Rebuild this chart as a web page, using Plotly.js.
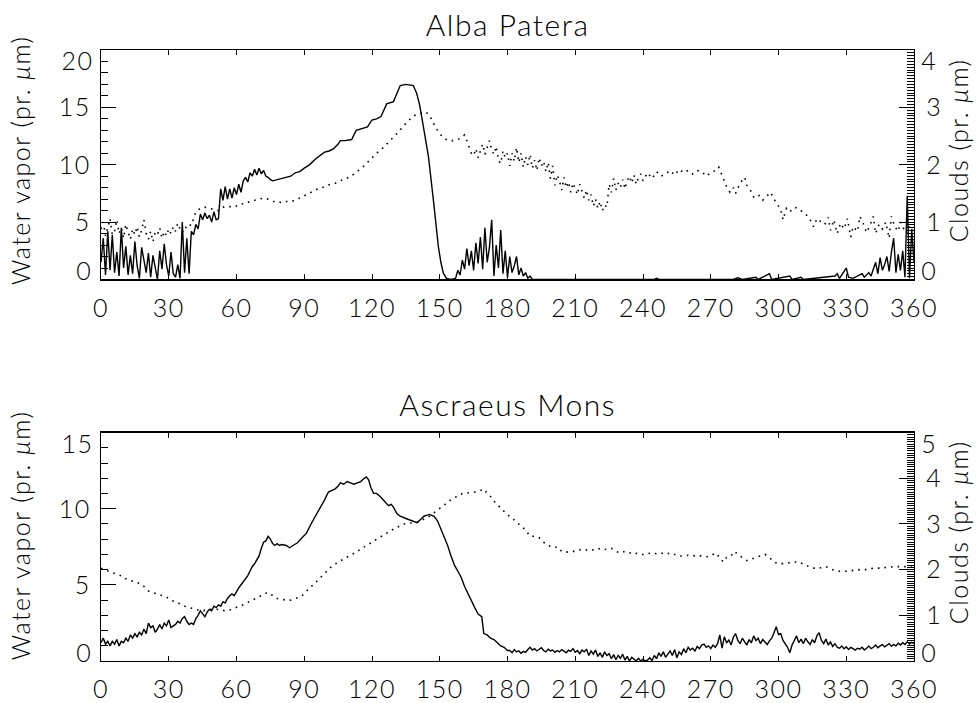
<!DOCTYPE html>
<html>
<head>
<meta charset="utf-8">
<script src="https://cdn.plot.ly/plotly-3.0.1.min.js"></script>
<style>
body{margin:0;background:#fff}
#chart svg text{letter-spacing:1.5px}
</style>
</head>
<body>
<div id="chart" style="width:976px;height:703px"></div>
<script>
// ---------- DATA ----------
var xTicks = [0,30,60,90,120,150,180,210,240,270,300,330,360];
var titles = ["Alba Patera", "Ascraeus Mons"];
var vapTitle = "Water vapor (pr. <i>μ</i>m)";
var cloudTitle = "Clouds (pr. <i>μ</i>m)";
var albaVapTicks = [0,5,10,15,20];
var albaCloudTicks = [0,1,2,3,4];
var ascVapTicks = [0,5,10,15];
var ascCloudTicks = [0,1,2,3,4,5];

// Alba Patera: clouds (solid, right axis, pr. um)
var albaCloudLs = [0,1,2,3,4,5,6,7,8,9,10,11,12,13,14,15,16,17,18,19,20,21,22,23,24,25,26,27,28,29,30,31,32,33,34,35,36,37,38,39,40,
41,42,43,44,45,46,47,48,49,50,51,52,53,54,55,56,57,58,59,60,61,62,63,64,65,66,67,68,69,70,71,72,73,74,75,76,
78,80,82,84,86,88,90,92,95,97,99,101,103,105,106,108,111,113,115,118,120,122,124,126.5,129.5,131,132.5,135,138.3,139.8,141,142,143.5,145,147.2,149.4,150.5,151.6,153,155,157,
158,159,160,161,162,163,164,165,166,167,168,169,170,171,172,173,174,175,176,177,178,179,180,181,182,183,184,185,186,187,188,189,190,191,
220,222,224,245,246,247,280,282,284,290,291,296,297,305,306,310,311,325,326,327,330,331,333,335,337,338,340,341,
343,344,345,346,347,348,349,350,351,352,353,354,355,356,357,358,359,360];
var albaCloud = [0.30,0.72,0.08,0.84,0.16,0.78,0.12,0.48,0.06,0.90,0.20,0.58,0.08,0.42,0.10,0.66,0.24,0.02,0.56,0.32,0.12,0.46,0.04,0.42,0.20,0.00,0.50,0.18,0.62,0.26,0.06,0.48,0.10,0.04,0.26,0.02,1.00,0.12,0.72,0.10,0.84,
0.78,0.96,0.88,1.14,1.04,1.16,1.06,1.12,1.00,1.18,1.04,1.06,1.58,1.38,1.62,1.40,1.58,1.42,1.60,1.48,1.66,1.52,1.72,1.78,1.70,1.86,1.80,1.92,1.82,1.94,1.84,1.90,1.80,1.78,1.74,1.72,
1.74,1.76,1.78,1.80,1.86,1.88,1.94,1.99,2.10,2.16,2.22,2.24,2.28,2.36,2.42,2.42,2.44,2.60,2.62,2.66,2.78,2.80,2.84,3.06,3.10,3.24,3.38,3.40,3.38,3.24,3.06,2.84,2.50,2.14,1.38,0.57,0.30,0.11,0.02,0,0.02,
0.16,0.08,0.34,0.18,0.54,0.24,0.50,0.16,0.64,0.28,0.74,0.18,0.90,0.30,0.56,1.04,0.06,0.60,0.20,0.86,0.10,0.50,0.04,0.40,0.12,0.24,0.40,0.08,0.20,0.06,0.12,0.02,0.06,0,
0,0.01,0,0,0.02,0,0,0.03,0,0.04,0,0.10,0,0.06,0,0.04,0,0.06,0.10,0.02,0.20,0.04,0.02,0.06,0.10,0.04,0.12,0.06,
0.30,0.10,0.38,0.16,0.26,0.40,0.14,0.48,0.72,0.12,0.44,0.16,0.50,0.04,1.46,0.02,0.88,0.30];

// Alba Patera: water vapor (dotted, left axis, pr. um)
var albaVapLs = [0,1,2,3,4,5,6,7,8,9,10,11,12,13,14,15,16,17,18,19,20,21,22,23,24,25,26,27,28,29,30,31,32,33,34,35,36,37,38,39,40,
42,44,46,48,50,52,54,56,58,60,62,64,66,68,70,72,74,76,78,80,82,84,86,88,90,92,94,96,98,100,102,104,106,108,110,112,114,116,118,120,122,124,126,128,130,132,134,136,138,140,142,144,146,148,150,152,154,156,158,160,
161,162,163,164,165,166,167,168,169,170,171,172,173,174,175,176,177,178,179,180,181,182,183,184,185,186,187,188,189,190,191,192,193,194,195,196,197,198,199,200,
201,202,203,204,205,206,207,208,209,210,211,212,213,214,215,216,217,218,219,220,221,222,223,224,225,226,227,228,229,230,231,232,233,234,235,236,237,238,239,240,
242,244,246,248,250,252,254,256,258,260,262,264,266,268,270,272,
273.5,275,277,278.5,280,281,283,285,286,287.5,289,291,293,295,296.5,298,299.5,301,302,303.5,305,307,309.5,311,312.5,314,315.5,317,319,320.5,322,323,324.5,326,327.5,329,330.5,332,333,335,336,337.5,339,340.5,342,343,344.5,346,347.5,349,350,351.5,353,354,355.5,357,358,359,360];
var albaVap = [4.4,5.0,3.8,4.6,5.3,3.9,4.2,5.2,4.0,4.5,3.6,4.8,4.1,3.5,4.4,3.9,4.6,3.7,4.3,5.2,4.0,3.5,4.2,3.3,4.1,3.9,4.5,3.6,4.2,3.8,4.4,4.0,4.6,4.2,4.9,4.4,4.1,4.6,4.5,4.8,4.7,
5.9,6.2,6.3,6.2,6.1,6.0,6.3,6.4,6.3,6.4,6.6,6.6,6.8,6.9,7.0,7.1,7.0,6.8,6.8,6.7,6.8,6.8,6.9,7.1,7.3,7.5,7.7,7.9,8.0,8.2,8.3,8.4,8.6,8.8,8.9,9.2,9.5,9.8,10.2,10.6,11.0,11.3,11.7,12.1,12.5,12.9,13.4,13.8,14.2,14.4,14.5,14.6,14.1,13.3,12.7,12.3,12.1,12.1,12.2,12.4,
12.6,12.1,11.5,11.0,10.8,11.4,10.6,11.2,11.8,10.9,11.5,12.1,11.3,10.9,11.6,10.4,10.1,11.2,10.6,11.0,9.9,11.0,10.3,11.5,10.2,11.0,9.8,10.7,10.0,10.9,9.7,10.4,9.5,10.6,9.9,10.3,9.4,10.2,8.8,9.9,
8.2,9.1,8.6,7.8,8.9,8.0,8.5,7.6,8.4,7.9,7.4,8.3,7.6,7.1,7.8,6.9,7.4,6.4,7.0,6.2,6.8,6.0,6.5,6.3,8.3,7.6,8.8,7.8,8.4,8.0,8.7,7.9,8.6,9.0,8.4,9.1,8.3,8.9,9.2,8.6,
9.3,8.8,9.4,9.0,9.2,9.5,9.1,9.6,9.3,9.5,9.2,9.5,9.4,9.0,9.3,9.5,
9.8,9.0,8.1,7.6,8.0,7.5,8.4,8.9,8.2,7.8,7.2,7.4,6.9,7.3,7.6,7.0,6.6,6.1,5.2,6.2,5.9,6.3,6.1,5.8,5.6,5.2,4.6,5.3,5.0,4.8,5.4,4.3,5.2,4.0,4.9,4.4,5.3,3.7,4.6,4.2,5.5,4.9,4.1,4.7,5.5,4.0,4.8,4.4,5.0,3.6,5.5,4.6,4.2,5.0,4.4,4.0,4.7,4.3,4.5];

// Ascraeus Mons: clouds (solid, right axis, pr. um)
var ascCloudLs = [0,1,2,3,4,5,6,7,8,9,10,11,12,13,14,15,16,17,18,19,20,21,22,23,24,25,26,27,28,29,30,31,32,33,34,35,36,37,38,39,40,
41,42,43,44,45,46,47,48,49,50,51,52,53,54,55,56,57,58,59,60,61,62,63,64,65,66,67,68,69,70,71,72,73,74,75,76,77,78,79,80,
82,83.5,85,87,89,91,93,95,97,99,100.7,102,103.7,105,106,107.5,109,110.5,112,113.5,115,116.5,117.5,118.5,119.5,120.7,122,123.6,125,127.3,128.5,129.5,131,132.5,135,137.5,140,141.5,143,145.5,147.5,149,150.5,152,153.5,155,156.5,158,159.5,161,162.5,164,165.5,167,168.6,169.5,171,172.5,174,175.5,177,178.5,180,
181,182,183,184,185,186,187,188,189,190,191,192,193,194,195,196,197,198,199,200,201,202,203,204,205,206,207,208,209,210,
211,212,213,214,215,216,217,218,219,220,221,222,223,224,225,226,227,228,229,230,231,232,233,234,235,236,237,238,239,240,
241,242,243,244,245,246,247,248,249,250,251,252,253,254,255,256,257,258,259,260,261,262,263,264,265,266,267,268,269,270,
271,272,273,274,275,276,277,278,279,280,281,282,283,284,285,286,287,288,289,290,291,292,293,294,295,296,297,298,299,300,
301,302,303,304,305,306,307,308,309,310,311,312,313,314,315,316,317,318,319,320,321,322,323,324,325,326,327,328,329,330,
331,332,333,334,335,336,337,338,339,340,341,342,343,344,345,346,347,348,349,350,351,352,353,354,355,356,357,358,359,360];
var ascCloud = [0.40,0.50,0.37,0.43,0.33,0.43,0.37,0.47,0.33,0.43,0.40,0.50,0.43,0.57,0.50,0.60,0.53,0.63,0.57,0.70,0.60,0.83,0.73,0.77,0.63,0.70,0.80,0.70,0.83,0.77,0.90,0.73,0.77,0.80,0.87,0.83,0.93,0.97,0.87,0.80,0.83,
0.80,0.93,1.00,1.10,1.03,0.97,1.07,1.13,1.10,1.20,1.17,1.23,1.20,1.30,1.27,1.37,1.43,1.47,1.43,1.53,1.60,1.67,1.73,1.80,1.87,1.97,2.07,2.13,2.23,2.30,2.47,2.60,2.63,2.73,2.67,2.57,2.53,2.57,2.53,2.55,
2.53,2.48,2.53,2.59,2.70,2.80,3.00,3.17,3.37,3.53,3.70,3.73,3.77,3.83,3.90,3.87,3.93,3.90,3.87,3.90,3.93,4.00,4.03,3.97,3.80,3.67,3.67,3.60,3.53,3.40,3.43,3.37,3.23,3.17,3.12,3.08,3.03,3.10,3.17,3.21,3.17,3.07,2.90,2.73,2.53,2.30,2.10,1.97,1.83,1.63,1.47,1.30,1.17,1.03,0.97,0.60,0.57,0.50,0.47,0.40,0.33,0.30,0.23,
0.23,0.18,0.25,0.20,0.22,0.17,0.21,0.19,0.25,0.30,0.24,0.27,0.22,0.26,0.29,0.23,0.20,0.26,0.22,0.24,0.19,0.23,0.20,0.25,0.22,0.18,0.24,0.21,0.27,0.19,
0.23,0.16,0.24,0.20,0.26,0.12,0.22,0.15,0.24,0.10,0.18,0.08,0.20,0.12,0.16,0.05,0.14,0.03,0.12,0.06,0.15,0.02,0.10,0.00,0.08,0.03,0.00,0.06,0.00,0.04,
0.00,0.02,0.07,0.01,0.12,0.05,0.18,0.10,0.20,0.08,0.15,0.22,0.12,0.25,0.07,0.20,0.14,0.27,0.18,0.30,0.24,0.28,0.22,0.32,0.27,0.35,0.37,0.30,0.33,0.27,
0.35,0.30,0.38,0.57,0.28,0.53,0.40,0.46,0.35,0.52,0.60,0.45,0.38,0.50,0.42,0.35,0.47,0.40,0.55,0.45,0.50,0.38,0.47,0.42,0.36,0.44,0.50,0.62,0.75,0.58,
0.60,0.45,0.38,0.30,0.18,0.35,0.45,0.55,0.40,0.48,0.38,0.50,0.42,0.36,0.47,0.40,0.55,0.62,0.45,0.38,0.48,0.35,0.42,0.32,0.38,0.30,0.28,0.33,0.27,0.31,
0.25,0.30,0.27,0.24,0.28,0.26,0.30,0.24,0.28,0.33,0.27,0.30,0.35,0.29,0.33,0.36,0.31,0.34,0.38,0.32,0.36,0.33,0.39,0.35,0.40,0.36,0.42,0.37,0.41,0.38];

// Ascraeus Mons: water vapor (dotted, left axis, pr. um)
var ascVapLs = [0,3,5,7,9,11,13,15,17,19,21,23,25,27,29,31,33,35,37,39,41,43,45,47,49,51,53,55,57,59,61,63,65,67,69,71,73,74,76,78,80,82,84,86,88,90,92,94,96,98,100,102,104,106,108,110,112,114,116,118,120,122,124,126,128,130,132,134,136,138,140,142,144,146,148,150,152,154,156,158,160,162,164,166,168,169.5,171,172.5,174,176,178,180,182,184,186,188,190,192,194,196,198,200,202,204,206,208,210,212,214,216,218,220,222,224,226,228,230,232,234,236,238,240,242,244,246,248,250,252,254,256,258,260,262,264,266,268,270,272,274,275.5,277,279,280.5,282,284,286,288,290,292,294,296,298,300,303,306,309,312,315,318,321,324,327,330,333,336,339,342,345,348,351,354,357,360];
var ascVap = [6.1,5.9,5.8,5.7,5.6,5.4,5.3,5.2,5.1,4.9,4.6,4.5,4.4,4.3,4.2,4.0,3.9,3.75,3.6,3.5,3.4,3.35,3.3,3.35,3.4,3.4,3.35,3.3,3.35,3.45,3.55,3.7,3.85,4.0,4.2,4.35,4.45,4.5,4.3,4.1,4.05,4.0,4.0,4.1,4.2,4.4,4.75,5.0,5.3,5.65,5.95,6.2,6.4,6.6,6.75,6.9,7.05,7.25,7.45,7.6,7.8,8.0,8.15,8.35,8.55,8.7,8.85,9.0,9.05,9.1,9.1,9.25,9.4,9.55,9.8,10.0,10.25,10.5,10.7,10.85,11.0,11.05,11.1,11.1,11.2,11.3,11.0,10.8,10.5,10.2,9.9,9.6,9.4,9.1,8.9,8.6,8.2,8.2,8.1,7.8,7.6,7.45,7.5,7.2,7.15,7.2,7.2,7.3,7.25,7.35,7.3,7.4,7.3,7.35,7.4,7.2,7.1,7.2,7.1,7.15,7.0,7.0,7.05,7.1,7.05,7.1,7.0,7.1,7.0,6.9,6.9,6.95,6.9,6.95,6.9,6.85,6.9,7.1,6.8,6.5,6.8,6.9,7.2,7.0,6.8,6.6,6.7,6.8,6.9,7.0,6.8,6.5,6.4,6.4,6.5,6.5,6.3,6.1,6.1,6.2,6.0,5.9,5.9,5.95,6.0,6.0,6.1,6.1,6.15,6.2,6.2,6.2,6.15];

// ---------- CHART ----------
var FONT = "Lato, 'DejaVu Sans', sans-serif";
var solid = {color:'#000', width:1.4};
var dotted = {color:'#000', width:1.6, dash:'1.6px,5px'};

var traces = [
  {x:albaVapLs, y:albaVap, xaxis:'x', yaxis:'y', mode:'lines', line:dotted, hoverinfo:'skip'},
  {x:albaCloudLs, y:albaCloud, xaxis:'x', yaxis:'y2', mode:'lines', line:solid, hoverinfo:'skip'},
  {x:ascVapLs, y:ascVap, xaxis:'x2', yaxis:'y3', mode:'lines', line:dotted, hoverinfo:'skip'},
  {x:ascCloudLs, y:ascCloud, xaxis:'x2', yaxis:'y4', mode:'lines', line:solid, hoverinfo:'skip'}
];

// inner tick labels drawn by the axis; the end labels are drawn as annotations, nudged inward
function innerText(tv){ return tv.map(function(v,i){ return (i===0||i===tv.length-1) ? '' : String(v); }); }

function xax(anchor){
  return {anchor:anchor, domain:[0,1], range:[0,360], tickvals:xTicks, ticks:'inside', ticklen:5,
    tickcolor:'#000', tickwidth:1, showline:true, linecolor:'#000', linewidth:1.2, mirror:'ticks',
    showgrid:false, zeroline:false, ticklabelstandoff:6, tickfont:{size:25}};
}
function yleft(dom, tv){
  return {domain:dom, range:[0,tv[tv.length-1]], tickvals:tv, ticktext:innerText(tv),
    ticks:'inside', ticklen:15, tickcolor:'#000', showline:true, linecolor:'#000', linewidth:1.2,
    minor:{dtick:1, ticks:'inside', ticklen:7, tickcolor:'#000', showgrid:false},
    showgrid:false, zeroline:false, ticklabelstandoff:4, tickfont:{size:25}};
}
function yright(over, tv){
  return {overlaying:over, side:'right', anchor:over==='y'?'x':'x2', range:[0,tv[tv.length-1]], tickvals:tv, ticktext:innerText(tv),
    ticks:'inside', ticklen:15, tickcolor:'#000', showline:true, linecolor:'#000', linewidth:1.2,
    minor:{dtick:0.05, ticks:'inside', ticklen:7, tickcolor:'#000', showgrid:false},
    showgrid:false, zeroline:false, ticklabelstandoff:6, tickfont:{size:25}};
}

var ann = [
  {text:titles[0], xref:'paper', yref:'paper', x:0.5, y:1.043, xanchor:'center', yanchor:'middle', showarrow:false, font:{size:30}},
  {text:titles[1], xref:'paper', yref:'paper', x:0.5, y:0.421, xanchor:'center', yanchor:'middle', showarrow:false, font:{size:30}},
  {text:vapTitle, xref:'paper', yref:'paper', x:-0.0996, y:0.82, xanchor:'center', yanchor:'middle', textangle:-90, showarrow:false, font:{size:25}},
  {text:vapTitle, xref:'paper', yref:'paper', x:-0.0996, y:0.206, xanchor:'center', yanchor:'middle', textangle:-90, showarrow:false, font:{size:25}},
  {text:cloudTitle, xref:'paper', yref:'paper', x:1.054, y:0.836, xanchor:'center', yanchor:'middle', textangle:-90, showarrow:false, font:{size:25}},
  {text:cloudTitle, xref:'paper', yref:'paper', x:1.054, y:0.211, xanchor:'center', yanchor:'middle', textangle:-90, showarrow:false, font:{size:25}}
];
function endLabels(tv, yref, side){
  var lo = tv[0], hi = tv[tv.length-1];
  var common = {xref:'paper', yref:yref, showarrow:false, yanchor:'middle', font:{size:25},
    x: side==='left'?0:1, xanchor: side==='left'?'right':'left', xshift: side==='left'?-7:6};
  ann.push(Object.assign({}, common, {text:String(hi), y:hi, yshift:-10}));
  ann.push(Object.assign({}, common, {text:String(lo), y:lo, yshift:9}));
}
endLabels(albaVapTicks, 'y', 'left');
endLabels(albaCloudTicks, 'y2', 'right');
endLabels(ascVapTicks, 'y3', 'left');
endLabels(ascCloudTicks, 'y4', 'right');

var layout = {
  width:976, height:703,
  margin:{l:101, r:62, t:50, b:42},
  paper_bgcolor:'#fff', plot_bgcolor:'#fff',
  showlegend:false,
  font:{family:FONT, size:25, color:'#000', weight:300},
  xaxis:xax('y'),
  yaxis:yleft([0.6244,1], albaVapTicks),
  yaxis2:yright('y', albaCloudTicks),
  xaxis2:xax('y3'),
  yaxis3:yleft([0,0.3737], ascVapTicks),
  yaxis4:yright('y3', ascCloudTicks),
  annotations:ann
};

Plotly.newPlot('chart', traces, layout, {staticPlot:true, displayModeBar:false});
</script>
</body>
</html>
